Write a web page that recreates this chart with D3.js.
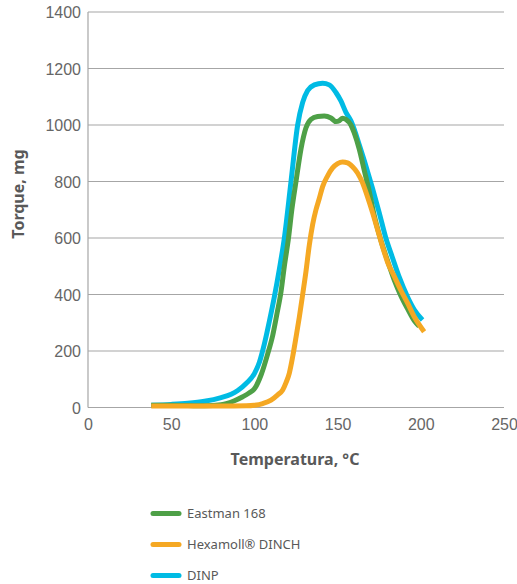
<!DOCTYPE html>
<html>
<head>
<meta charset="utf-8">
<script src="https://cdn.jsdelivr.net/npm/d3@7"></script>
<style>
  body { margin: 0; background: #fff; }
  svg { display: block; font-family: "Noto Sans", sans-serif; }
  .tick text { fill: #666; font-size: 16px; }
  .grid line { stroke: #a6a6a6; stroke-width: 1.2; }
  .title { fill: #595959; font-size: 16px; font-weight: bold; }
  .legend text { fill: #595959; font-size: 13px; }
  .curve { fill: none; stroke-width: 5; stroke-linejoin: round; }
</style>
</head>
<body>
<svg width="517" height="584"></svg>
<script>
//* data: [temperature °C, torque mg]
const eastman168 = [
	[38, 8], [50, 8], [60, 7], [70, 6], [80, 10], [88, 24], [93, 38], [97, 52], [100, 66],
	[104, 115], [108, 190], [111, 255], [113.5, 330], [116, 410], [118, 500], [120.5, 600],
	[122.5, 700], [125, 800], [128, 915], [131, 990], [134, 1020], [138, 1030], [142, 1032],
	[146, 1025], [149, 1012], [151, 1015], [153, 1024], [155, 1020], [158, 1000], [160, 972],
	[163, 915], [166, 840], [169, 765], [172, 680], [176, 592], [180, 520], [184, 452],
	[188, 396], [192, 350], [196, 308], [199, 288]
];
const hexamollDinch = [
	[38, 5], [60, 5], [80, 5], [95, 6], [100, 8], [105, 14], [110, 26], [114, 45], [117, 62],
	[119, 88], [121, 122], [123, 180], [125, 248], [127, 320], [129, 400], [131, 482],
	[133, 575], [135, 648], [137, 700], [139, 740], [141, 782], [144, 820], [147, 848],
	[150, 863], [153, 869], [156, 866], [159, 852], [162, 830], [165, 795], [168, 745],
	[171, 690], [174, 630], [177, 570], [180, 515], [184, 465], [188, 415], [192, 370],
	[196, 322], [202, 268]
];
const dinp = [
	[38, 8], [50, 11], [60, 15], [70, 22], [80, 35], [86, 47], [90, 60], [95, 85], [100, 120],
	[103, 160], [106, 225], [109, 305], [112, 392], [115, 490], [118, 600], [122, 800],
	[126, 1000], [129, 1080], [132, 1122], [136, 1142], [141, 1148], [145, 1142], [149, 1115],
	[152, 1085], [155, 1045], [158, 1015], [160, 985], [163, 930], [167, 855], [171, 775],
	[175, 690], [179, 600], [183, 530], [187, 462], [192, 392], [196, 347], [201, 310]
];

const xTicks = [0, 50, 100, 150, 200, 250];
const yTicks = [0, 200, 400, 600, 800, 1000, 1200, 1400];

const seriesNames = ["Eastman 168", "Hexamoll® DINCH", "DINP"];
const seriesColors = ["#4ea047", "#f5a823", "#00bbe4"];
const seriesData = [eastman168, hexamollDinch, dinp];
const drawOrder = [2, 0, 1];

const svg = d3.select("svg");

//* scales
const x = d3.scaleLinear().domain([0, 250]).range([88, 504]);
const y = d3.scaleLinear().domain([0, 1400]).range([407.5, 12]);

//* gridlines
svg.append("g")
	.attr("class", "grid")
	.selectAll("line")
	.data(yTicks)
	.enter()
	.append("line")
	.attr("x1", x(0))
	.attr("x2", x(250))
	.attr("y1", (d) => y(d))
	.attr("y2", (d) => y(d));

svg.append("line")
	.attr("x1", x(0))
	.attr("x2", x(0))
	.attr("y1", y(0))
	.attr("y2", y(1400))
	.attr("stroke", "#a6a6a6")
	.attr("stroke-width", 1.2);

//* axes
const yAxis = svg.append("g")
	.attr("transform", `translate(${x(0)},0)`)
	.call(d3.axisLeft(y).tickValues(yTicks).tickFormat(d3.format("d")).tickSize(0).tickPadding(7));
yAxis.select(".domain").remove();
yAxis.selectAll("text").attr("dy", "0.35em");

const xAxis = svg.append("g")
	.attr("transform", `translate(0,${y(0)})`)
	.call(d3.axisBottom(x).tickValues(xTicks).tickFormat(d3.format("d")).tickSize(0).tickPadding(11));
xAxis.select(".domain").remove();

//* axis titles
svg.append("text")
	.attr("class", "title")
	.attr("x", 295)
	.attr("y", 465)
	.attr("text-anchor", "middle")
	.text("Temperatura, °C");
svg.append("text")
	.attr("class", "title")
	.attr("transform", "translate(24,194) rotate(-90)")
	.attr("text-anchor", "middle")
	.text("Torque, mg");

//* curves
const line = d3.line()
	.x((d) => x(d[0]))
	.y((d) => y(d[1]))
	.curve(d3.curveMonotoneX);

svg.append("g")
	.selectAll("path")
	.data(drawOrder)
	.enter()
	.append("path")
	.attr("class", "curve")
	.attr("stroke", (i) => seriesColors[i])
	.attr("d", (i) => line(seriesData[i]));

//* legend
const legend = svg.append("g")
	.attr("class", "legend")
	.selectAll("g")
	.data(seriesNames)
	.enter()
	.append("g")
	.attr("transform", (_, i) => `translate(153, ${513.5 + i * 31})`);
legend.append("line")
	.attr("x1", 0)
	.attr("x2", 26)
	.attr("stroke", (_, i) => seriesColors[i])
	.attr("stroke-width", 5)
	.attr("stroke-linecap", "round");
legend.append("text")
	.attr("x", 34)
	.attr("dy", "0.35em")
	.text((d) => d);
</script>
</body>
</html>
